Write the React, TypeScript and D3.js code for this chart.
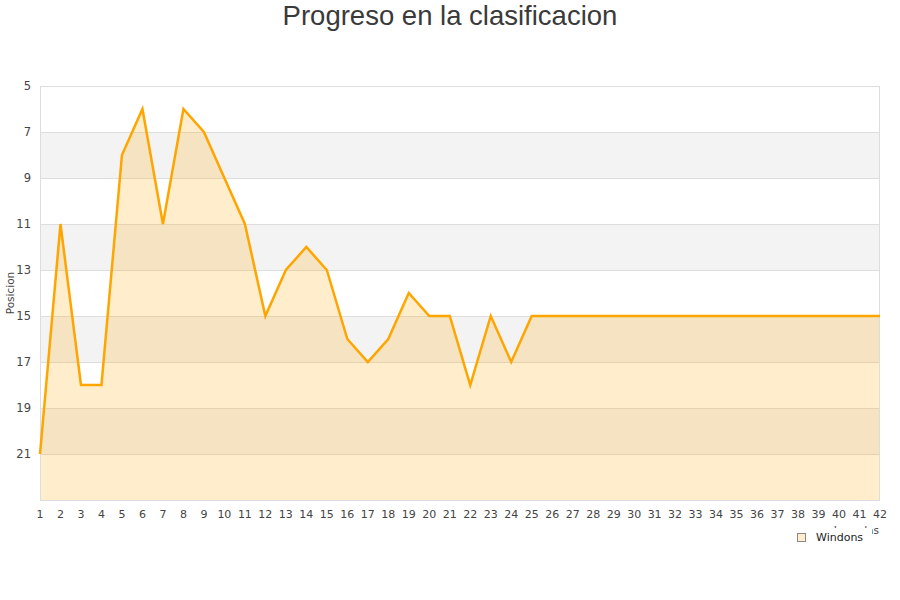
import React, { useEffect, useRef } from "react";
import * as d3 from "d3";

// Jornadas (match days) and position per match day
const rounds: number[] = d3.range(1, 43);
const positions: number[] = [
  21, 11, 18, 18, 8, 6, 11, 6, 7, 9, 11, 15, 13, 12, 13, 16, 17, 16, 14, 15, 15,
  18, 15, 17, 15, 15, 15, 15, 15, 15, 15, 15, 15, 15, 15, 15, 15, 15, 15, 15, 15, 15,
];
const yTicks: number[] = [5, 7, 9, 11, 13, 15, 17, 19, 21];
const seriesName = "Windons";

const App: React.FC = () => {
  const ref = useRef<SVGSVGElement | null>(null);

  useEffect(() => {
    const width = 900;
    const height = 600;
    const m = { top: 86, right: 20, bottom: 100, left: 40 };
    const x0 = m.left;
    const x1 = width - m.right;
    const y0 = m.top;
    const y1 = height - m.bottom;

    const svg = d3.select(ref.current);
    svg.selectAll("*").remove();

    const x = d3.scaleLinear().domain([1, 42]).range([x0, x1]);
    const y = d3.scaleLinear().domain([5, 23]).range([y0, y1]);

    // alternating bands
    const bands = [7, 11, 15, 19];
    svg
      .append("g")
      .selectAll("rect")
      .data(bands)
      .join("rect")
      .attr("x", x0)
      .attr("width", x1 - x0)
      .attr("y", (d) => y(d))
      .attr("height", (d) => y(d + 2) - y(d))
      .attr("fill", "#f3f3f3");

    // grid lines
    svg
      .append("g")
      .selectAll("line")
      .data(yTicks.slice(1))
      .join("line")
      .attr("x1", x0)
      .attr("x2", x1)
      .attr("y1", (d) => y(d) + 0.5)
      .attr("y2", (d) => y(d) + 0.5)
      .attr("stroke", "#dedede");

    const data = rounds.map((r, i) => ({ r, p: positions[i] }));

    const area = d3
      .area<{ r: number; p: number }>()
      .x((d) => x(d.r))
      .y0(y1)
      .y1((d) => y(d.p));
    svg
      .append("path")
      .datum(data)
      .attr("d", area)
      .attr("fill", "rgba(255,165,0,0.2)");

    // plot border
    svg
      .append("rect")
      .attr("x", x0 + 0.5)
      .attr("y", y0 + 0.5)
      .attr("width", x1 - x0 - 1)
      .attr("height", y1 - y0)
      .attr("fill", "none")
      .attr("stroke", "#dddddd");

    const line = d3
      .line<{ r: number; p: number }>()
      .x((d) => x(d.r))
      .y((d) => y(d.p));
    svg
      .append("path")
      .datum(data)
      .attr("d", line)
      .attr("fill", "none")
      .attr("stroke", "#ffa500")
      .attr("stroke-width", 2.5)
      .attr("stroke-linejoin", "miter");

    const font = "'DejaVu Sans', sans-serif";

    // y tick labels
    svg
      .append("g")
      .selectAll("text")
      .data(yTicks)
      .join("text")
      .attr("x", 31)
      .attr("y", (d) => y(d) + 4)
      .attr("text-anchor", "end")
      .attr("font-family", font)
      .attr("font-size", 11.5)
      .attr("fill", "#444")
      .text((d) => d);

    // x tick labels
    svg
      .append("g")
      .selectAll("text")
      .data(rounds)
      .join("text")
      .attr("x", (d) => x(d))
      .attr("y", 518)
      .attr("text-anchor", "middle")
      .attr("font-family", font)
      .attr("font-size", 11)
      .attr("fill", "#444")
      .text((d) => d);

    // y axis title
    svg
      .append("text")
      .attr("transform", `translate(14,${(y0 + y1) / 2}) rotate(-90)`)
      .attr("text-anchor", "middle")
      .attr("font-family", font)
      .attr("font-size", 10.5)
      .attr("fill", "#444")
      .text("Posicion");

    // x axis title (mostly hidden behind legend, as in the original)
    svg
      .append("text")
      .attr("x", 879)
      .attr("y", 534)
      .attr("text-anchor", "end")
      .attr("font-family", font)
      .attr("font-size", 10.5)
      .attr("fill", "#444")
      .text("Jornadas");

    // legend
    const lg = svg.append("g");
    lg.append("rect")
      .attr("x", 790)
      .attr("y", 528)
      .attr("width", 82)
      .attr("height", 18)
      .attr("fill", "#fff");
    lg.append("rect")
      .attr("x", 797.5)
      .attr("y", 533.5)
      .attr("width", 8)
      .attr("height", 8)
      .attr("fill", "#ffedcc")
      .attr("stroke", "#888");
    lg.append("text")
      .attr("x", 816)
      .attr("y", 541)
      .attr("font-family", font)
      .attr("font-size", 11)
      .attr("fill", "#222")
      .text(seriesName);

    // title
    svg
      .append("text")
      .attr("x", width / 2)
      .attr("y", 25)
      .attr("text-anchor", "middle")
      .attr("font-family", "'Liberation Sans', Arial, sans-serif")
      .attr("font-size", 27.5)
      .attr("fill", "#3a3a3a")
      .text("Progreso en la clasificacion");
  }, []);

  return (
    <svg
      ref={ref}
      width={900}
      height={600}
      style={{ position: "absolute", left: 0, top: 0, background: "#fff" }}
    />
  );
};

export default App;
